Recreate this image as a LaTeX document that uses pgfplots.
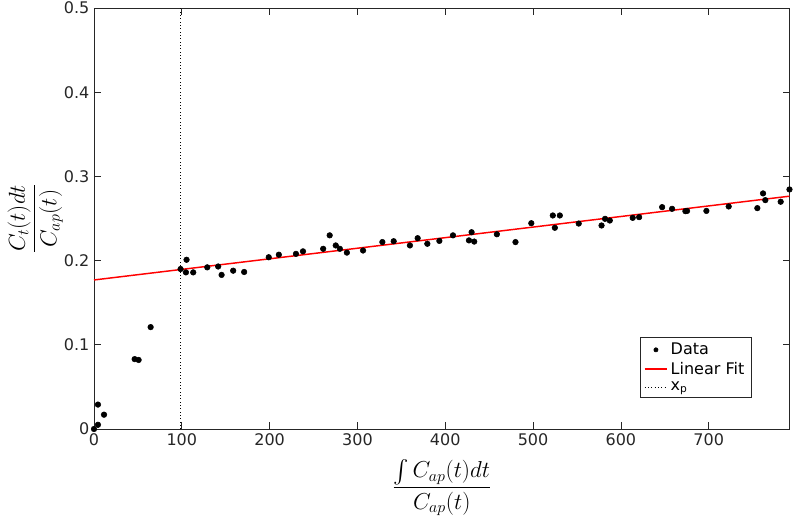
\documentclass[border=0pt]{standalone}
\usepackage{pgfplots}
\pgfplotsset{compat=1.18}
\usepackage{fontspec}
\setmainfont{DejaVu Sans}
\usepackage{amsmath}

\definecolor{axgray}{rgb}{0.15,0.15,0.15}

\begin{document}
\begin{tikzpicture}
\begin{axis}[
    at={(0,0)}, anchor=origin,
    scale only axis,
    width=521.6pt, height=315.75pt,
    xmin=0, xmax=792, ymin=0, ymax=0.5,
    xtick={0,100,...,700},
    ytick={0,0.1,...,0.5},
    yticklabel style={/pgf/number format/.cd, fixed, precision=1},
    /pgf/number format/assume math mode=true,
    tick label style={font=\fontsize{12}{14}\selectfont, color=axgray},
    tick align=inside,
    major tick length=5pt,
    tick style={color=axgray, line width=0.5pt},
    axis line style={color=axgray, line width=0.6pt},
    every axis x label/.style={at={(axis description cs:0.5,-0.139)}, anchor=center},
    every axis y label/.style={at={(axis description cs:-0.0845,0.5)}, anchor=center, rotate=90},
    xlabel={\fontsize{17}{20}\selectfont$\dfrac{\int C_{ap}(t)dt}{C_{ap}(t)}$},
    ylabel={\fontsize{17}{20}\selectfont$\dfrac{C_t(t)dt}{C_{ap}(t)}$},
    legend style={font=\fontsize{12}{14}\selectfont, at={(0.945,0.074)}, anchor=south east,
        draw=axgray, inner xsep=3pt, inner ysep=2pt},
    legend cell align=left,
]
\addplot[only marks, mark=*, mark size=2.1pt, black,
    legend image post style={mark size=1.6pt}] coordinates {
    (0,0) (4.5,0.005) (11.4,0.017) (4.5,0.029)
    (46.3,0.083) (50.8,0.082) (64.5,0.121)
    (98.6,0.190) (105.4,0.201) (104.7,0.186) (113,0.186) (129,0.192)
    (141.4,0.193) (145.3,0.183) (158.5,0.188) (171,0.1865) (199,0.204)
    (210.5,0.207) (230,0.208) (238,0.211) (261,0.214) (268.4,0.230)
    (275.3,0.218) (280,0.214) (288,0.2095) (306.4,0.212) (328.4,0.222)
    (341.3,0.223) (359.8,0.218) (368.6,0.2266) (379.6,0.220) (393.3,0.2234)
    (408.8,0.230) (427,0.224) (430,0.2337) (433,0.2226) (458.8,0.2313)
    (480,0.222) (498,0.2444) (522.5,0.2536) (524.8,0.239) (530.5,0.2536)
    (552,0.244) (578,0.2417) (582,0.2496) (587.4,0.2476) (613.5,0.2508)
    (620.8,0.2516) (647,0.2635) (658.3,0.2615) (673.5,0.2587) (675.4,0.2590)
    (697.4,0.259) (722.8,0.2643) (755.4,0.2623) (761.9,0.2798) (764.5,0.2718)
    (782,0.2699) (792,0.2845)
};
\addlegendentry{Data}
\addplot[red, line width=1.1pt] coordinates {(0,0.177) (792,0.2765)};
\addlegendentry{Linear Fit}
\addplot[black, dotted, line width=0.5pt] coordinates {(98.5,0) (98.5,0.5)};
\addlegendentry{x\textsubscript{p}}
\end{axis}
\pgfresetboundingbox
\path (-70.5pt,-74.25pt) rectangle (529.5pt,321.75pt);
\end{tikzpicture}
\end{document}
